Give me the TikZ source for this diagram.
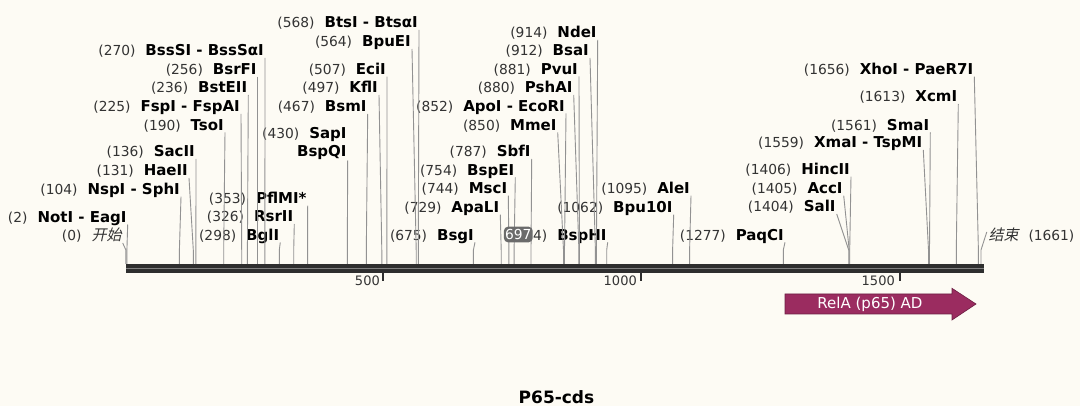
\documentclass[tikz,border=0pt]{standalone}
\usepackage{fontspec}
\setmainfont{DejaVu Sans}
\newfontfamily\cjkfont[FakeSlant=0.22]{Noto Sans CJK SC}
\usepackage{xcolor}
\usetikzlibrary{calc}
\definecolor{bgcream}{HTML}{FDFBF4}
\definecolor{numgray}{HTML}{333333}
\definecolor{cutgray}{HTML}{929292}
\definecolor{axisdark}{HTML}{2E2E2E}
\definecolor{relapink}{HTML}{9B2C60}
\newcommand{\bpnum}[1]{{\fontsize{13.8}{16}\selectfont\mdseries\color{numgray}(#1)}\hspace{10pt}}
\tikzset{
  enz/.style = {inner sep=0pt, anchor=base east, text=black,
    font=\fontsize{15}{18.5}\selectfont\bfseries},% enzyme label
  cut/.style = {draw=cutgray, line width=0.9pt},% line to cut site
  ticklbl/.style = {inner sep=0pt, anchor=base east, text=numgray,
    font=\fontsize{13}{15}\selectfont},
  tickmark/.style = {draw=axisdark, line width=2pt},
  badge/.style = {fill=black!58, rounded corners=4pt, text=white, inner sep=0pt,
    minimum width=28.7pt, minimum height=15.6pt, font=\fontsize{13.8}{16}\selectfont}
}

\begin{document}
\begin{tikzpicture}[x=1pt, y=-1pt]
\useasboundingbox (0,0) rectangle (1080,406);
\fill[bgcream] (0,0) rectangle (1080,406);
\coordinate (bend) at (0,250);

% backbone
\fill[axisdark] (125.9,264) rectangle (984,273);
\draw[black!50, line width=1.2pt] (125.9,268.8) -- (984,268.8);

% ticks
\coordinate (k500) at (383.3,273);
\coordinate (k1000) at (640.7,273);
\coordinate (k1500) at (900,273);
\draw[tickmark] (k500) -- ++(0,8.5);
\draw[tickmark] (k1000) -- ++(0,8.5);
\draw[tickmark] (k1500) -- ++(0,8.5);
\node[ticklbl] (t500) at (380,285.5) {500};
\node[ticklbl] (t1000) at (637,285.5) {1000};
\node[ticklbl] (t1500) at (895,285.5) {1500};

% cut sites
\coordinate (cStart) at (125.9,264);
\coordinate (cNotI) at (126.9,264);
\coordinate (cNspI) at (179.4,264);
\coordinate (cHaeII) at (193.3,264);
\coordinate (cSacII) at (195.9,264);
\coordinate (cTsoI) at (223.7,264);
\coordinate (cFspI) at (241.7,264);
\coordinate (cBstEII) at (247.4,264);
\coordinate (cBsrFI) at (257.7,264);
\coordinate (cBssSI) at (264.9,264);
\coordinate (cBglI) at (279.3,264);
\coordinate (cRsrII) at (293.7,264);
\coordinate (cPflMI) at (307.6,264);
\coordinate (cSapI) at (347.3,264);
\coordinate (cBsmI) at (366.3,264);
\coordinate (cKflI) at (381.8,264);
\coordinate (cEciI) at (386.9,264);
\coordinate (cBpuEI) at (416.2,264);
\coordinate (cBtsI) at (418.3,264);
\coordinate (cBsgI) at (473.4,264);
\coordinate (cApaLI) at (501.2,264);
\coordinate (cMscI) at (508.9,264);
\coordinate (cBspEI) at (514.1,264);
\coordinate (cSbfI) at (531.0,264);
\coordinate (cMmeI) at (563.5,264);
\coordinate (cApoI) at (564.5,264);
\coordinate (cPshAI) at (578.9,264);
\coordinate (cPvuI) at (579.4,264);
\coordinate (cBsaI) at (595.4,264);
\coordinate (cNdeI) at (596.4,264);
\coordinate (cBspHI) at (606.7,264);
\coordinate (cBpuX) at (672.6,264);
\coordinate (cAleI) at (689.6,264);
\coordinate (cPaqCI) at (783.3,264);
\coordinate (cSalI) at (848.7,264);
\coordinate (cAccI) at (849.2,264);
\coordinate (cHincII) at (849.7,264);
\coordinate (cXmaI) at (928.5,264);
\coordinate (cSmaI) at (929.5,264);
\coordinate (cXcmI) at (956.3,264);
\coordinate (cXhoI) at (978.4,264);
\coordinate (cEnd) at (981.0,264);

% labels
\node[enz] (lStart) at (121.7,241) {\bpnum{0}{\cjkfont\mdseries\color{numgray}开始}};
\node[enz] (lNotI) at (126.7,222.5) {\bpnum{2}NotI - EagI};
\node[enz] (lNspI) at (180,194.6) {\bpnum{104}NspI - SphI};
\node[enz] (lHaeII) at (188,176) {\bpnum{131}HaeII};
\node[enz] (lSacII) at (195,157) {\bpnum{136}SacII};
\node[enz] (lTsoI) at (224,130.3) {\bpnum{190}TsoI};
\node[enz] (lFspI) at (240,112) {\bpnum{225}FspI - FspAI};
\node[enz] (lBstEII) at (247.3,93) {\bpnum{236}BstEII};
\node[enz] (lBsrFI) at (256.7,74.6) {\bpnum{256}BsrFI};
\node[enz] (lBssSI) at (264,56) {\bpnum{270}BssSI - BssSαI};
\node[enz] (lBglI) at (279.3,240.3) {\bpnum{298}BglI};
\node[enz] (lRsrII) at (293.3,222) {\bpnum{326}RsrII};
\node[enz] (lPflMI) at (306.7,203.6) {\bpnum{353}PflMI*};
\node[enz, align=right] (lSapI) at (346.7,157) {\bpnum{430}SapI\\BspQI};
\node[enz] (lBsmI) at (366.7,112) {\bpnum{467}BsmI};
\node[enz] (lKflI) at (378,93) {\bpnum{497}KflI};
\node[enz] (lEciI) at (386,74.6) {\bpnum{507}EciI};
\node[enz] (lBpuEI) at (411,47) {\bpnum{564}BpuEI};
\node[enz] (lBtsI) at (418,28) {\bpnum{568}BtsI - BtsαI};
\node[enz] (lBsgI) at (474,240.3) {\bpnum{675}BsgI};
\node[enz] (lApaLI) at (499.3,212.6) {\bpnum{729}ApaLI};
\node[enz] (lMscI) at (507.3,193.6) {\bpnum{744}MscI};
\node[enz] (lBspEI) at (514.3,175.3) {\bpnum{754}BspEI};
\node[enz] (lSbfI) at (530.7,157) {\bpnum{787}SbfI};
\node[enz] (lMmeI) at (556.7,130.3) {\bpnum{850}MmeI};
\node[enz] (lApoI) at (565,111.3) {\bpnum{852}ApoI - EcoRI};
\node[enz] (lPshAI) at (572.7,93) {\bpnum{880}PshAI};
\node[enz] (lPvuI) at (578,74.3) {\bpnum{881}PvuI};
\node[enz] (lBsaI) at (589,56) {\bpnum{912}BsaI};
\node[enz] (lNdeI) at (596.7,38) {\bpnum{914}NdeI};
\node[enz] (lBspHI) at (606.7,240.3) {\bpnum{934}BspHI};
\node[enz] (lBpuX) at (672.7,212.6) {\bpnum{1062}Bpu10I};
\node[enz] (lAleI) at (690,193.6) {\bpnum{1095}AleI};
\node[enz] (lPaqCI) at (784,240.3) {\bpnum{1277}PaqCI};
\node[enz] (lSalI) at (835.7,212) {\bpnum{1404}SalI};
\node[enz] (lAccI) at (842.7,193.6) {\bpnum{1405}AccI};
\node[enz] (lHincII) at (850,174.6) {\bpnum{1406}HincII};
\node[enz] (lXmaI) at (922.3,148) {\bpnum{1559}XmaI - TspMI};
\node[enz] (lSmaI) at (929.3,130.3) {\bpnum{1561}SmaI};
\node[enz] (lXcmI) at (957.3,102) {\bpnum{1613}XcmI};
\node[enz] (lXhoI) at (973.3,74.6) {\bpnum{1656}XhoI - PaeR7I};
\node[enz, anchor=base west] (lEnd) at (988.3,240.3) {{\cjkfont\mdseries\color{numgray}结束}\hspace{10pt}{\fontsize{13.8}{16}\selectfont\mdseries\color{numgray}(1661)}};

% lines
\draw[cut] ([xshift=1pt,yshift=-2pt]lStart.base east) -- (cStart |- bend) -- (cStart);
\draw[cut] ([xshift=1pt,yshift=-2pt]lNotI.base east) -- (cNotI |- bend) -- (cNotI);
\draw[cut] ([xshift=1pt,yshift=-2pt]lNspI.base east) -- (cNspI |- bend) -- (cNspI);
\draw[cut] ([xshift=1pt,yshift=-2pt]lHaeII.base east) -- (cHaeII |- bend) -- (cHaeII);
\draw[cut] ([xshift=1pt,yshift=-2pt]lSacII.base east) -- (cSacII |- bend) -- (cSacII);
\draw[cut] ([xshift=1pt,yshift=-2pt]lTsoI.base east) -- (cTsoI |- bend) -- (cTsoI);
\draw[cut] ([xshift=1pt,yshift=-2pt]lFspI.base east) -- (cFspI |- bend) -- (cFspI);
\draw[cut] ([xshift=1pt,yshift=-2pt]lBstEII.base east) -- (cBstEII |- bend) -- (cBstEII);
\draw[cut] ([xshift=1pt,yshift=-2pt]lBsrFI.base east) -- (cBsrFI |- bend) -- (cBsrFI);
\draw[cut] ([xshift=1pt,yshift=-2pt]lBssSI.base east) -- (cBssSI |- bend) -- (cBssSI);
\draw[cut] ([xshift=1pt,yshift=-2pt]lBglI.base east) -- (cBglI |- bend) -- (cBglI);
\draw[cut] ([xshift=1pt,yshift=-2pt]lRsrII.base east) -- (cRsrII |- bend) -- (cRsrII);
\draw[cut] ([xshift=1pt,yshift=-2pt]lPflMI.base east) -- (cPflMI |- bend) -- (cPflMI);
\draw[cut] ([xshift=1pt]lSapI.south east) -- (cSapI |- bend) -- (cSapI);
\draw[cut] ([xshift=1pt,yshift=-2pt]lBsmI.base east) -- (cBsmI |- bend) -- (cBsmI);
\draw[cut] ([xshift=1pt,yshift=-2pt]lKflI.base east) -- (cKflI |- bend) -- (cKflI);
\draw[cut] ([xshift=1pt,yshift=-2pt]lEciI.base east) -- (cEciI |- bend) -- (cEciI);
\draw[cut] ([xshift=1pt,yshift=-2pt]lBpuEI.base east) -- (cBpuEI |- bend) -- (cBpuEI);
\draw[cut] ([xshift=1pt,yshift=-2pt]lBtsI.base east) -- (cBtsI |- bend) -- (cBtsI);
\draw[cut] ([xshift=1pt,yshift=-2pt]lBsgI.base east) -- (cBsgI |- bend) -- (cBsgI);
\draw[cut] ([xshift=1pt,yshift=-2pt]lApaLI.base east) -- (cApaLI |- bend) -- (cApaLI);
\draw[cut] ([xshift=1pt,yshift=-2pt]lMscI.base east) -- (cMscI |- bend) -- (cMscI);
\draw[cut] ([xshift=1pt,yshift=-2pt]lBspEI.base east) -- (cBspEI |- bend) -- (cBspEI);
\draw[cut] ([xshift=1pt,yshift=-2pt]lSbfI.base east) -- (cSbfI |- bend) -- (cSbfI);
\draw[cut] ([xshift=1pt,yshift=-2pt]lMmeI.base east) -- (cMmeI |- bend) -- (cMmeI);
\draw[cut] ([xshift=1pt,yshift=-2pt]lApoI.base east) -- (cApoI |- bend) -- (cApoI);
\draw[cut] ([xshift=1pt,yshift=-2pt]lPshAI.base east) -- (cPshAI |- bend) -- (cPshAI);
\draw[cut] ([xshift=1pt,yshift=-2pt]lPvuI.base east) -- (cPvuI |- bend) -- (cPvuI);
\draw[cut] ([xshift=1pt,yshift=-2pt]lBsaI.base east) -- (cBsaI |- bend) -- (cBsaI);
\draw[cut] ([xshift=1pt,yshift=-2pt]lNdeI.base east) -- (cNdeI |- bend) -- (cNdeI);
\draw[cut] ([xshift=1pt,yshift=-2pt]lBspHI.base east) -- (cBspHI |- bend) -- (cBspHI);
\draw[cut] ([xshift=1pt,yshift=-2pt]lBpuX.base east) -- (cBpuX |- bend) -- (cBpuX);
\draw[cut] ([xshift=1pt,yshift=-2pt]lAleI.base east) -- (cAleI |- bend) -- (cAleI);
\draw[cut] ([xshift=1pt,yshift=-2pt]lPaqCI.base east) -- (cPaqCI |- bend) -- (cPaqCI);
\draw[cut] ([xshift=1pt,yshift=-2pt]lSalI.base east) -- (cSalI |- bend) -- (cSalI);
\draw[cut] ([xshift=1pt,yshift=-2pt]lAccI.base east) -- (cAccI |- bend) -- (cAccI);
\draw[cut] ([xshift=1pt,yshift=-2pt]lHincII.base east) -- (cHincII |- bend) -- (cHincII);
\draw[cut] ([xshift=1pt,yshift=-2pt]lXmaI.base east) -- (cXmaI |- bend) -- (cXmaI);
\draw[cut] ([xshift=1pt,yshift=-2pt]lSmaI.base east) -- (cSmaI |- bend) -- (cSmaI);
\draw[cut] ([xshift=1pt,yshift=-2pt]lXcmI.base east) -- (cXcmI |- bend) -- (cXcmI);
\draw[cut] ([xshift=1pt,yshift=-2pt]lXhoI.base east) -- (cXhoI |- bend) -- (cXhoI);
\draw[cut] ([xshift=-1.5pt,yshift=3pt]lEnd.west) -- (cEnd |- bend) -- (cEnd);

% overlay badge
\node[badge] (badge) at (518.3,234.5) {697};

% feature
\fill[relapink, draw=relapink!70!black, line width=0.6pt] (785,294) -- (952,294) -- (952,288.3)
  -- (976,304) -- (952,320) -- (952,314) -- (785,314) -- cycle;
\node[text=white, font=\fontsize{15}{17}\selectfont] (relA) at (870,304) {RelA (p65) AD};

% title
\node[anchor=base, font=\fontsize{17}{20}\selectfont\bfseries] (title) at (556.5,403.5) {P65-cds};
\end{tikzpicture}
\end{document}
